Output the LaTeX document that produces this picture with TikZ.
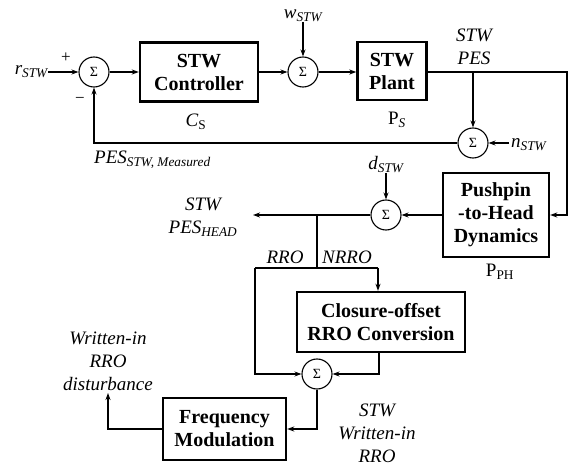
\documentclass[tikz,border=0pt]{standalone}
\usepackage{fontspec}
\setmainfont{Liberation Serif}
\usetikzlibrary{arrows.meta,calc}
\begin{document}
\begin{tikzpicture}[x=1pt,y=-1pt,
  blk/.style={draw,line width=2.4pt,inner sep=0pt,align=center,font=\fontsize{20}{23}\selectfont\bfseries},
  sumn/.style={draw,circle,line width=1.1pt,minimum size=30pt,inner sep=0pt,font=\fontsize{14}{14}\selectfont},
  lab/.style={inner sep=0pt,align=center,font=\fontsize{19}{23}\selectfont\itshape},
  con/.style={line width=1.1pt},
  arr/.style={con,-{Stealth[length=7pt,width=5pt]}}]
\useasboundingbox (0,0) rectangle (574,468);
% blocks
\node[blk,minimum width=118pt,minimum height=59pt] (ctrl) at (199,72) {STW\\Controller};
\node[blk,minimum width=69pt,minimum height=58pt] (plant) at (392,71) {STW\\Plant};
\node[blk,minimum width=106pt,minimum height=84pt] (push) at (496,215) {Pushpin\\-to-Head\\Dynamics};
\node[blk,minimum width=168pt,minimum height=60pt] (clos) at (381,322) {Closure-offset\\RRO Conversion};
\node[blk,minimum width=123pt,minimum height=62pt] (freq) at (224.5,429) {Frequency\\Modulation};
% sums
\node[sumn] (s1) at (94,72) {Σ};
\node[sumn] (s2) at (303,72) {Σ};
\node[sumn] (s3) at (473,143) {Σ};
\node[sumn] (s4) at (386,215) {Σ};
\node[sumn] (s5) at (317,374) {Σ};
% labels
\node[lab,anchor=east] (r) at (48,72) {r\textsubscript{STW}};
\node[inner sep=0pt,font=\fontsize{17}{17}\selectfont] (plus) at (66,58) {+};
\node[inner sep=0pt,font=\fontsize{17}{17}\selectfont] (minus) at (80,100) {−};
\node[inner sep=0pt,font=\fontsize{19}{19}\selectfont] (cs) at (196,122) {\textit{C}\textsubscript{S}};
\node[lab,anchor=south] (w) at (303,22) {w\textsubscript{STW}};
\node[inner sep=0pt,font=\fontsize{19}{19}\selectfont] (ps) at (397,120) {P\textsubscript{\textit{S}}};
\node[lab] (stwpes) at (474,47) {STW\\PES};
\node[lab,anchor=west] (n) at (511,145) {n\textsubscript{STW}};
\node[lab,anchor=west] (pesm) at (94,160) {PES\textsubscript{STW, Measured}};
\node[lab,anchor=south] (d) at (386,173) {d\textsubscript{STW}};
\node[lab] (head) at (203,217) {STW\\PES\textsubscript{HEAD}};
\node[lab] (rro) at (285,257) {RRO};
\node[lab] (nrro) at (347,257) {NRRO};
\node[inner sep=0pt,font=\fontsize{19}{19}\selectfont] (pph) at (500,272) {P\textsubscript{PH}};
\node[lab] (wdist) at (108,361) {Written-in\\RRO\\disturbance};
\node[lab] (stwrro) at (377,433) {STW\\Written-in\\RRO};
% coordinates
\coordinate (rr) at (567,72);
\coordinate (rd) at (567,215);
\coordinate (b1) at (473,72);
\coordinate (fb) at (94,143);
\coordinate (nin) at (509,143);
\coordinate (hout) at (253,215);
\coordinate (b2) at (317,215);
\coordinate (b3) at (317,268);
\coordinate (lb) at (255,268);
\coordinate (rb) at (378,268);
\coordinate (cb) at (379,374);
\coordinate (fo) at (317,429);
\coordinate (wl) at (108,429);
\coordinate (wt) at (108,393);
% connectors
\draw[arr] (r.east) -- (s1);
\draw[arr] (s1) -- (ctrl);
\draw[arr] (ctrl) -- (s2);
\draw[arr] (w.south) -- (s2);
\draw[arr] (s2) -- (plant.west |- s2);
\draw[arr] (plant.east |- rr) -- (rr) -- (rd) -- (push.east);
\draw[arr] (b1) -- (s3);
\draw[arr] (nin) -- (s3);
\draw[arr] (s3) -- (fb) -- (s1);
\draw[arr] (d.south) -- (s4);
\draw[arr] (push) -- (s4);
\draw[arr] (s4) -- (hout);
\draw[con] (b2) -- (b3);
\draw[con] (lb) -- (rb);
\draw[arr] (rb) -- (clos.north -| rb);
\draw[arr] (lb) |- (s5);
\draw[arr] (clos.south -| cb) -- (cb) -- (s5);
\draw[arr] (s5) -- (fo) -- (freq.east |- fo);
\draw[arr] (freq.west |- wl) -- (wl) -- (wt);
\end{tikzpicture}
\end{document}
